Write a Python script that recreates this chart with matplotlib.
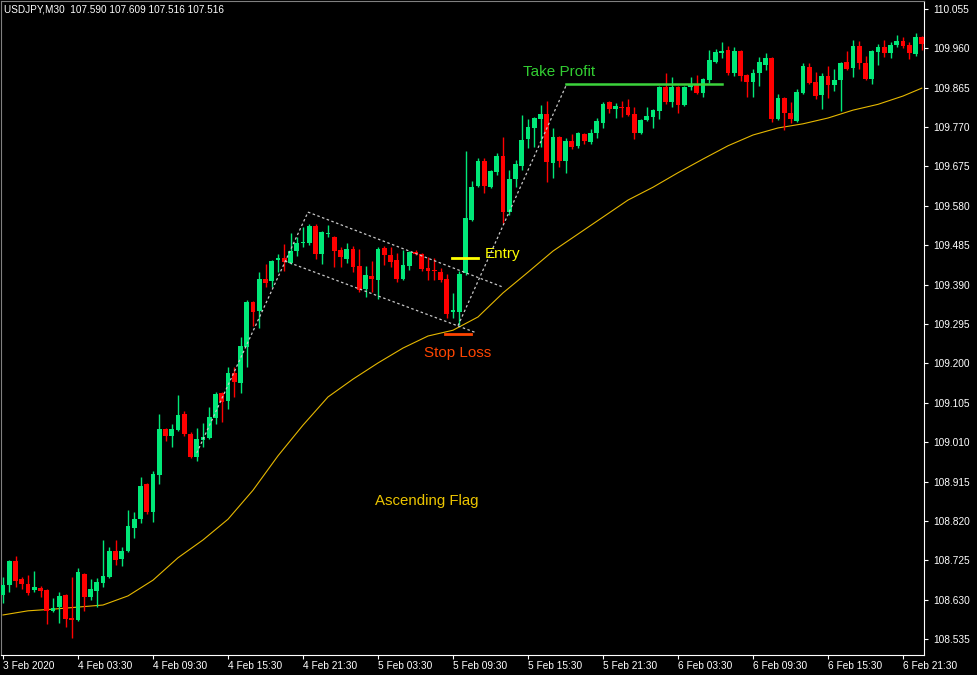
import matplotlib
matplotlib.use('Agg')
import matplotlib.pyplot as plt
import numpy as np

# USDJPY M30, 3 Feb 21:30 .. 6 Feb 23:00
opens = [108.641, 108.665, 108.724, 108.679, 108.667, 108.653, 108.658, 108.653, 108.603, 108.612,
         108.641, 108.586, 108.581, 108.692, 108.636, 108.651, 108.670, 108.684, 108.748, 108.728,
         108.748, 108.803, 108.824, 108.910, 108.841, 108.931, 109.041, 109.025, 109.039, 109.077,
         109.029, 108.974, 109.015, 109.020, 109.068, 109.129, 109.110, 109.177, 109.153, 109.239,
         109.348, 109.327, 109.403, 109.399, 109.449, 109.454, 109.442, 109.471, 109.491, 109.491,
         109.532, 109.464, 109.512, 109.505, 109.474, 109.452, 109.476, 109.435, 109.379, 109.411,
         109.401, 109.479, 109.462, 109.449, 109.403, 109.435, 109.469, 109.464, 109.430, 109.425,
         109.420, 109.403, 109.324, 109.324, 109.418, 109.546, 109.628, 109.688, 109.625, 109.662,
         109.701, 109.565, 109.645, 109.676, 109.741, 109.768, 109.790, 109.802, 109.684, 109.746,
         109.688, 109.737, 109.724, 109.754, 109.734, 109.756, 109.780, 109.830, 109.813, 109.818,
         109.818, 109.802, 109.756, 109.787, 109.794, 109.809, 109.867, 109.830, 109.867, 109.823,
         109.867, 109.872, 109.852, 109.884, 109.927, 109.949, 109.956, 109.901, 109.954, 109.896,
         109.879, 109.901, 109.920, 109.937, 109.790, 109.840, 109.804, 109.785, 109.853, 109.915,
         109.879, 109.847, 109.894, 109.872, 109.884, 109.927, 109.913, 109.966, 109.925, 109.886,
         109.951, 109.963, 109.949, 109.968, 109.978, 109.968, 109.947, 109.987]
highs = [108.684, 108.726, 108.736, 108.684, 108.689, 108.699, 108.663, 108.655, 108.634, 108.648,
         108.643, 108.684, 108.707, 108.694, 108.679, 108.682, 108.774, 108.757, 108.774, 108.757,
         108.846, 108.841, 108.926, 108.912, 108.941, 109.077, 109.043, 109.053, 109.124, 109.085,
         109.034, 109.044, 109.056, 109.094, 109.131, 109.130, 109.191, 109.191, 109.263, 109.353,
         109.350, 109.420, 109.440, 109.449, 109.464, 109.488, 109.515, 109.505, 109.529, 109.536,
         109.536, 109.520, 109.534, 109.508, 109.481, 109.491, 109.484, 109.476, 109.435, 109.447,
         109.481, 109.484, 109.481, 109.467, 109.474, 109.471, 109.474, 109.466, 109.457, 109.454,
         109.430, 109.415, 109.370, 109.423, 109.713, 109.640, 109.696, 109.696, 109.666, 109.708,
         109.747, 109.667, 109.691, 109.799, 109.790, 109.794, 109.823, 109.833, 109.768, 109.748,
         109.744, 109.754, 109.758, 109.756, 109.765, 109.792, 109.830, 109.832, 109.828, 109.833,
         109.837, 109.818, 109.789, 109.818, 109.813, 109.869, 109.901, 109.891, 109.869, 109.869,
         109.891, 109.896, 109.888, 109.956, 109.958, 109.975, 109.966, 109.963, 109.956, 109.898,
         109.911, 109.939, 109.949, 109.939, 109.850, 109.842, 109.830, 109.862, 109.925, 109.925,
         109.903, 109.901, 109.918, 109.911, 109.927, 109.954, 109.980, 109.978, 109.942, 109.956,
         109.970, 109.980, 109.975, 109.992, 109.987, 109.975, 109.997, 109.989]
lows = [108.622, 108.648, 108.660, 108.655, 108.641, 108.648, 108.636, 108.571, 108.600, 108.574,
        108.564, 108.538, 108.579, 108.603, 108.629, 108.612, 108.660, 108.682, 108.714, 108.712,
        108.745, 108.779, 108.815, 108.836, 108.817, 108.910, 109.013, 108.998, 109.036, 109.024,
        108.972, 108.965, 108.998, 109.017, 109.053, 109.058, 109.090, 109.119, 109.129, 109.191,
        109.290, 109.285, 109.384, 109.384, 109.420, 109.423, 109.440, 109.459, 109.481, 109.486,
        109.452, 109.440, 109.505, 109.432, 109.432, 109.442, 109.420, 109.372, 109.360, 109.372,
        109.355, 109.437, 109.432, 109.396, 109.401, 109.425, 109.462, 109.423, 109.401, 109.401,
        109.396, 109.310, 109.310, 109.293, 109.413, 109.544, 109.625, 109.611, 109.623, 109.655,
        109.539, 109.558, 109.625, 109.667, 109.720, 109.722, 109.722, 109.638, 109.647, 109.674,
        109.659, 109.717, 109.720, 109.729, 109.729, 109.744, 109.768, 109.804, 109.792, 109.794,
        109.797, 109.741, 109.754, 109.785, 109.768, 109.790, 109.825, 109.818, 109.804, 109.821,
        109.860, 109.850, 109.843, 109.877, 109.925, 109.937, 109.896, 109.894, 109.882, 109.843,
        109.843, 109.870, 109.908, 109.782, 109.787, 109.763, 109.780, 109.783, 109.850, 109.875,
        109.838, 109.813, 109.840, 109.857, 109.809, 109.908, 109.891, 109.911, 109.884, 109.874,
        109.920, 109.939, 109.937, 109.963, 109.961, 109.934, 109.942, 109.956]
closes = [108.665, 108.724, 108.675, 108.667, 108.646, 108.660, 108.651, 108.603, 108.610, 108.639,
          108.583, 108.581, 108.696, 108.636, 108.655, 108.672, 108.687, 108.748, 108.726, 108.748,
          108.808, 108.824, 108.905, 108.841, 108.933, 109.041, 109.025, 109.041, 109.075, 109.029,
          108.974, 109.017, 109.022, 109.070, 109.126, 109.107, 109.177, 109.155, 109.242, 109.348,
          109.324, 109.403, 109.394, 109.447, 109.454, 109.444, 109.471, 109.491, 109.493, 109.532,
          109.464, 109.517, 109.515, 109.471, 109.457, 109.476, 109.432, 109.377, 109.413, 109.403,
          109.476, 109.462, 109.444, 109.403, 109.437, 109.469, 109.464, 109.428, 109.423, 109.423,
          109.401, 109.319, 109.329, 109.415, 109.551, 109.625, 109.688, 109.628, 109.664, 109.701,
          109.565, 109.645, 109.681, 109.739, 109.770, 109.792, 109.802, 109.686, 109.746, 109.688,
          109.737, 109.722, 109.756, 109.737, 109.756, 109.785, 109.825, 109.813, 109.821, 109.816,
          109.799, 109.756, 109.787, 109.797, 109.811, 109.867, 109.830, 109.867, 109.823, 109.867,
          109.874, 109.852, 109.886, 109.932, 109.951, 109.954, 109.901, 109.954, 109.894, 109.879,
          109.901, 109.927, 109.937, 109.790, 109.840, 109.804, 109.790, 109.855, 109.918, 109.877,
          109.845, 109.894, 109.872, 109.884, 109.925, 109.911, 109.966, 109.925, 109.886, 109.954,
          109.963, 109.949, 109.968, 109.978, 109.966, 109.949, 109.987, 109.970]

# moving average, read every 4th bar (last one at bar 147)
ma_bars = list(range(0, 145, 4)) + [147]
ma_vals = [108.593, 108.603, 108.607, 108.612, 108.617, 108.639, 108.677, 108.731, 108.774, 108.824,
           108.894, 108.977, 109.051, 109.119, 109.162, 109.201, 109.237, 109.266, 109.280, 109.312,
           109.370, 109.420, 109.471, 109.512, 109.553, 109.594, 109.625, 109.660, 109.693, 109.725,
           109.751, 109.768, 109.778, 109.792, 109.811, 109.825, 109.845, 109.864]

date_ticks = list(range(0, 145, 12))
date_labels = ['3 Feb 2020', '4 Feb 03:30', '4 Feb 09:30', '4 Feb 15:30', '4 Feb 21:30',
               '5 Feb 03:30', '5 Feb 09:30', '5 Feb 15:30', '5 Feb 21:30', '6 Feb 03:30',
               '6 Feb 09:30', '6 Feb 15:30', '6 Feb 21:30']
price_ticks = [108.535 + 0.095 * k for k in range(17)]

entry_price = 109.454
stop_price = 109.271
tp_price = 109.874

up_col = '#00E878'
dn_col = '#FF0000'
font = 'Liberation Sans'

fig = plt.figure(figsize=(9.77, 6.75), dpi=100, facecolor='black')
ax = fig.add_axes([1/977, 20/675, 923/977, 654/675], facecolor='black')

o = np.array(opens); h = np.array(highs); l = np.array(lows); c = np.array(closes)
idx = np.arange(len(o))
cols = [up_col if cc >= oo else dn_col for oo, cc in zip(o, c)]
ax.vlines(idx, l, h, colors=cols, linewidth=1, zorder=2)
bot = np.minimum(o, c)
hgt = np.maximum(np.abs(c - o), 0.0025)
ax.bar(idx, hgt, bottom=bot, width=0.74, color=cols, linewidth=0, zorder=3)

ax.plot(ma_bars, ma_vals, color='#E6B800', lw=0.8, zorder=1)

# flag pattern drawing
dash = dict(color='#C8C8C8', lw=0.9, ls=(0, (2, 2)), zorder=4)
ax.plot([31.0, 48.8], [108.984, 109.565], **dash)
ax.plot([48.8, 80.0], [109.565, 109.384], **dash)
ax.plot([45.1, 75.5], [109.447, 109.275], **dash)
ax.plot([72.8, 90.2], [109.291, tp_price], **dash)

ax.plot([71.8, 76.0], [entry_price, entry_price], color='#FFFF00', lw=2, zorder=5)
ax.plot([70.7, 74.9], [stop_price, stop_price], color='#FF4500', lw=2, zorder=5)
ax.plot([90.1, 115.0], [tp_price, tp_price], color='#3CD33C', lw=1.8, zorder=5)

ax.text(77.0, 109.464, 'Entry', color='#FFFF00', fontsize=11, family=font, ha='left', va='center')
ax.text(72.8, 109.225, 'Stop Loss', color='#FF4500', fontsize=11, family=font, ha='center', va='center')
ax.text(88.96, 109.903, 'Take Profit', color='#32CD32', fontsize=11, family=font, ha='center', va='center')
ax.text(67.84, 108.868, 'Ascending Flag', color='#EBC400', fontsize=10.8, family=font, ha='center', va='center')

ax.set_xlim(-0.32, 147.36)
ax.set_ylim(108.4964, 110.0743)

for s in ['left', 'top']:
    ax.spines[s].set_color('#808080')
for s in ['right', 'bottom']:
    ax.spines[s].set_color('white')

ax.yaxis.tick_right()
ax.set_yticks(price_ticks)
ax.set_yticklabels(['%.3f' % p for p in price_ticks])
ax.set_xticks(date_ticks)
ax.set_xticklabels(date_labels)
ax.tick_params(axis='both', colors='white', length=3, width=0.8, labelsize=7.3, direction='out')
ax.tick_params(axis='y', pad=3.5)
ax.tick_params(axis='x', pad=1.5)
for t in ax.get_xticklabels():
    t.set_ha('left')
    t.set_family(font)
for t in ax.get_yticklabels():
    t.set_family(font)

fig.text(4/977, 1 - 9/675, 'USDJPY,M30  107.590 107.609 107.516 107.516', color='white',
         fontsize=7.2, family=font, ha='left', va='center')

fig.savefig('out.png', dpi=100, facecolor='black')
